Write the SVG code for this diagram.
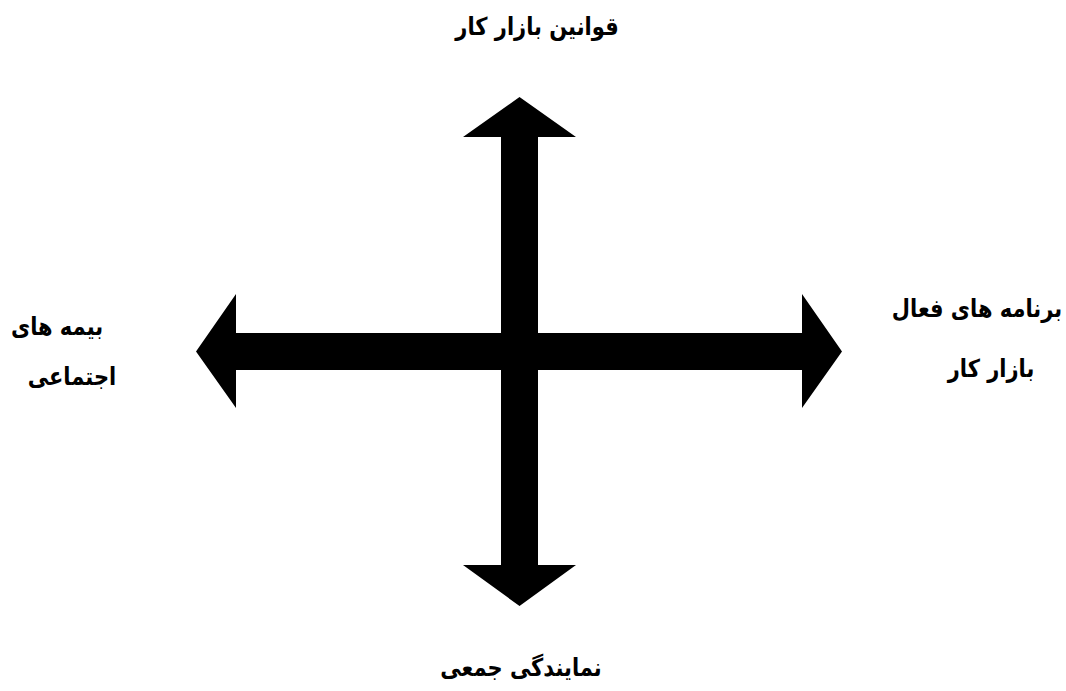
<svg xmlns="http://www.w3.org/2000/svg" width="1066" height="691" viewBox="0 0 1066 691">
<style>
.lbl{font-family:"DejaVu Sans","Noto Sans",sans-serif;font-weight:bold;font-size:21px;fill:#000;text-anchor:middle;direction:rtl}
.arr{fill:#000;stroke:none}
</style>
<rect width="1066" height="691" fill="#fff"/>
<g id="connectors">
<polygon class="arr" points="519.5,97 576,137 538,137 538,565 576,565 519.5,606 463,565 501,565 501,137 463,137"/>
<polygon class="arr" points="196,351.5 236,294 236,333 802,333 802,294 842,351.5 802,408 802,370 236,370 236,408"/>
</g>
<g id="top"><text class="lbl" transform="translate(537,35) scale(1,1.18)">قوانین بازار کار</text></g>
<g id="bottom"><text class="lbl" transform="translate(521,676) scale(1,1.18)">نمایندگی جمعی</text></g>
<g id="left"><text class="lbl" transform="translate(57,335) scale(1,1.18)">بیمه های</text><text class="lbl" transform="translate(72,385) scale(1,1.18)">اجتماعی</text></g>
<g id="right"><text class="lbl" transform="translate(977,317) scale(1,1.18)">برنامه های فعال</text><text class="lbl" transform="translate(991,377) scale(1,1.18)">بازار کار</text></g>
</svg>
